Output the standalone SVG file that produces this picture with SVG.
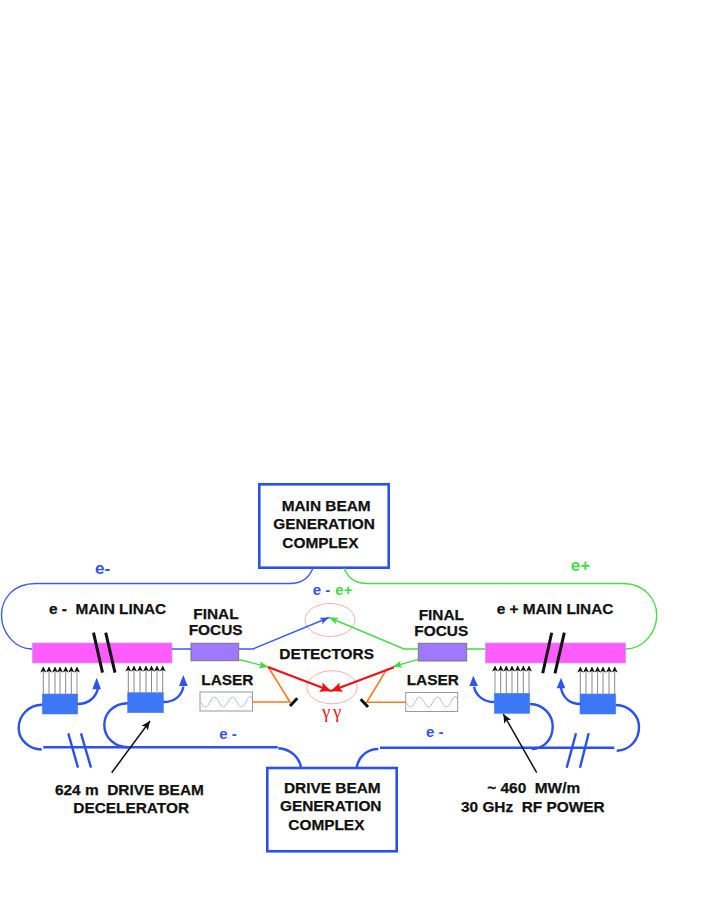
<svg xmlns="http://www.w3.org/2000/svg" width="708" height="917" viewBox="0 0 708 917">
<style>
text{font-family:"Liberation Sans",Arial,sans-serif;font-weight:700;font-size:15.4px;fill:#111;white-space:pre;stroke:#111;stroke-width:.25}
.bl{fill:#2f55f0;stroke:none}.gr{fill:#3fdc3f;stroke:none}
.big{font-size:17px}.sm{font-size:15px}
.box{fill:#fff;stroke:#2a50f0;stroke-width:2.6}
.linac{fill:#ff5cff;stroke:#c8a0f0;stroke-width:.8}
.ff{fill:#a078ff;stroke:#777;stroke-width:1}
.laser{fill:#fff;stroke:#999;stroke-width:1}
.wave{fill:none;stroke:#9db0f5;stroke-width:.8}
.dec{fill:#3c78f5;stroke:#4a80f0;stroke-width:.6}
.det{fill:none;stroke:#f29a9a;stroke-width:.8}
.thin{fill:none;stroke:#3c5cf0;stroke-width:1.4}
.thing{fill:none;stroke:#45dc45;stroke-width:1.4}
.thick{fill:none;stroke:#2a50f0;stroke-width:2.4}
.org{fill:none;stroke:#fb7a1e;stroke-width:1.6}
.red{fill:none;stroke:#f01010;stroke-width:2}
.blk{fill:none;stroke:#111;stroke-width:3}
.rf{stroke:#888;stroke-width:1;marker-end:url(#rfh)}
.rfl{stroke:#c4c4c4;stroke-width:1.8;marker-end:url(#rfh)}
.ptr{stroke:#111;stroke-width:1.5;marker-end:url(#ptrh);fill:none}
</style>
<defs>
<marker id="rfh" markerUnits="userSpaceOnUse" markerWidth="7" markerHeight="7" refX="5.500" refY="3" orient="auto"><path d="M0 0L6 3L0 6L1.500 3Z" fill="#111"/></marker>
<marker id="ptrh" markerUnits="userSpaceOnUse" markerWidth="10" markerHeight="10" refX="9" refY="5" orient="auto"><path d="M0 1L9 5L0 9L2 5Z" fill="#111"/></marker>
<marker id="bh" markerUnits="userSpaceOnUse" markerWidth="10" markerHeight="8" refX="9" refY="4" orient="auto"><path d="M0 .500L9 4L0 7.500L2 4Z" fill="#2f55f0"/></marker>
<marker id="gh" markerUnits="userSpaceOnUse" markerWidth="10" markerHeight="8" refX="9" refY="4" orient="auto"><path d="M0 .500L9 4L0 7.500L2 4Z" fill="#3fdc3f"/></marker>
<marker id="rh" markerUnits="userSpaceOnUse" markerWidth="12" markerHeight="11" refX="11" refY="5.500" orient="auto"><path d="M0 .500L11 5.500L0 10.500L2 5.500Z" fill="#f01010"/></marker>
<path id="sine" class="wave" d="M201 702Q205.500 712 210 702T219 702T228 702T237 702T246 702T252 699"/>
</defs>

<g id="main-beam"><rect class="box" x="259.300" y="484.300" width="129.400" height="83.400"/><text x="281.700" y="510.700">MAIN BEAM</text><text x="273.300" y="529.300">GENERATION</text><text x="282.300" y="547.700">COMPLEX</text></g>
<g id="drive-beam"><rect class="box" x="267.300" y="768" width="129.400" height="83.300"/><text x="284" y="792.700">DRIVE BEAM</text><text x="280" y="811">GENERATION</text><text x="288.300" y="830">COMPLEX</text></g>
<g id="linac-e-minus"><rect class="linac" x="32.300" y="643" width="139.700" height="20"/><text x="49" y="614">e -  MAIN LINAC</text></g>
<g id="linac-e-plus"><rect class="linac" x="485.300" y="643" width="140.400" height="20"/><text x="496.700" y="614">e + MAIN LINAC</text></g>
<g id="ff-left"><rect class="ff" x="191" y="643.300" width="47.700" height="17.400"/><text x="193.300" y="619">FINAL</text><text x="188.700" y="635">FOCUS</text></g>
<g id="ff-right"><rect class="ff" x="418.300" y="643.300" width="48.400" height="17.700"/><text x="418.700" y="619.500">FINAL</text><text x="414.300" y="635.500">FOCUS</text></g>
<g id="laser-left"><rect class="laser" x="200" y="692" width="52.500" height="19"/><use href="#sine"/><text x="201.300" y="684.700">LASER</text></g>
<g id="laser-right"><rect class="laser" x="405.700" y="692.500" width="52" height="19"/><use href="#sine" x="205"/><text x="406.700" y="685">LASER</text></g>
<g id="dec-1"><rect class="dec" x="42.300" y="694" width="35.400" height="20"/></g>
<g id="dec-2"><rect class="dec" x="127.700" y="692.700" width="35.600" height="20"/></g>
<g id="dec-3"><rect class="dec" x="494.300" y="693.300" width="35.400" height="20"/></g>
<g id="dec-4"><rect class="dec" x="580" y="694" width="35.700" height="20"/></g>
<g id="detector-top"><ellipse class="det" cx="330" cy="620" rx="25" ry="16.500"/></g>
<g id="detector-bottom"><ellipse class="det" cx="332" cy="687.300" rx="25" ry="16.500"/></g>

<g id="connectors">
<path class="thin" d="M313 568Q307 583.500 290 583.500H36C12 583.500 1.500 600 1.500 615C1.500 634 16 649 32 649"/>
<path class="thin" d="M172 649H191M239 649H253L329 617.500" marker-end="url(#bh)"/>
<path class="thing" d="M344 568Q350 583.500 367 583.500H623C645 583.500 656.700 600 656.700 615C656.700 634 642 649 625.700 649"/>
<path class="thing" d="M485 649H466.700M418 649H404L329 617.500" marker-end="url(#gh)"/>
<path class="thing" d="M239 659.500L268 667" marker-end="url(#gh)"/>
<path class="thing" d="M418.300 659.300L393 666.700" marker-end="url(#gh)"/>
<path class="org" d="M252.500 702H290L268.500 667.500"/>
<path class="org" d="M405.700 702.300H366.700L387.300 668.300"/>
<path class="red" d="M268 667L331 691" marker-end="url(#rh)"/>
<path class="red" d="M394 667.300L331 691" marker-end="url(#rh)"/>
<path class="blk" d="M290 706L297.300 698.300M360.700 699.300L368 707"/>
<path class="blk" d="M93.500 632.700L102.500 672.700M105.700 632.700L115 672.700M551.700 632.700L542.700 673.300M564.300 632.700L555 673.300"/>
<path class="thick" d="M43.300 747.300H277.700M380 747.700H614.300"/>
<path class="thick" d="M278.300 748.300C290 749 300 757 301 768.300M378.300 749C367 749 358 757 356.700 768"/>
<path class="thick" d="M42.300 704.700C28 705 18.700 716 18.700 728C18.700 740 29 749 41.700 749.500"/>
<path class="thick" d="M127.700 703.300C114 703.500 104.300 713 104.300 725C104.300 738 115 747 128 747.300"/>
<path class="thick" d="M530 704C544 704.500 552.700 715 552.700 726.700C552.700 739 544 749 531.700 749"/>
<path class="thick" d="M615.700 705C630 705.500 639 716 639 727C639 740 630 750 616.700 750.700"/>
<path class="thick" d="M68.300 733.300L78 767.700M81 733.300L91 767.700M576 733.300L566.700 767.700M588.700 733.300L580 767.700"/>
<path class="thick" d="M77.300 704C88 704 96 698 98 688M163.300 702C174 702 182 696 183.300 686.700M494.300 702C484 702 476 696 474 686.700M581 704C570 704 563 698 561 688"/>
<path class="bl" d="M96.700 677.700L92.300 689.300H101ZM183.300 675L179 686H187.700ZM473.300 675.700L469.300 686H478ZM561 677.700L556.700 688.300H565.300Z"/>
<g id="rf-lines">
<path class="rf" d="M43.300 694V667"/><path class="rf" d="M49 694V667"/><path class="rf" d="M55 694V667"/><path class="rf" d="M60 694V667"/><path class="rf" d="M65.700 694V667"/><path class="rf" d="M71.300 694V667"/><path class="rfl" d="M77 694V667"/>
<path class="rf" d="M128.300 693V666"/><path class="rf" d="M134 693V666"/><path class="rf" d="M140 693V666"/><path class="rf" d="M146 693V666"/><path class="rf" d="M151.500 693V666"/><path class="rfl" d="M157 693V666"/><path class="rf" d="M162.700 693V666"/>
<path class="rfl" d="M495 693V666"/><path class="rf" d="M500.700 693V666"/><path class="rf" d="M506.300 693V666"/><path class="rf" d="M512 693V666"/><path class="rf" d="M517.700 693V666"/><path class="rf" d="M523.300 693V666"/><path class="rf" d="M529 693V666"/>
<path class="rf" d="M580.300 694V667"/><path class="rf" d="M586 694V667"/><path class="rf" d="M592 694V667"/><path class="rf" d="M597.600 694V667"/><path class="rf" d="M603 694V667"/><path class="rf" d="M609 694V667"/><path class="rf" d="M614.700 694V667"/>
</g>
<path class="ptr" d="M111.700 772.700L150 721"/>
<path class="ptr" d="M536.700 772.700L503.300 714"/>
</g>

<g id="labels">
<text x="279.300" y="659.300">DETECTORS</text>
<text class="bl big" x="95" y="574.300">e-</text>
<text class="gr big" x="570.700" y="571">e+</text>
<text class="bl sm" x="312.700" y="595">e -</text><text class="gr sm" x="335.300" y="595">e+</text>
<text class="bl sm" x="219.300" y="739.300">e -</text>
<text class="bl sm" x="426" y="736.700">e -</text>
<text x="322.300" y="718" style="font-family:'Liberation Serif','DejaVu Serif',serif;font-weight:400;fill:#f01010;stroke:none;font-size:18px;letter-spacing:3px">γγ</text>
<text x="55" y="795">624 m  DRIVE BEAM</text>
<text x="73.300" y="813">DECELERATOR</text>
<text x="487.300" y="793.300">~ 460  MW/m</text>
<text x="461" y="812">30 GHz  RF POWER</text>
</g>
</svg>
